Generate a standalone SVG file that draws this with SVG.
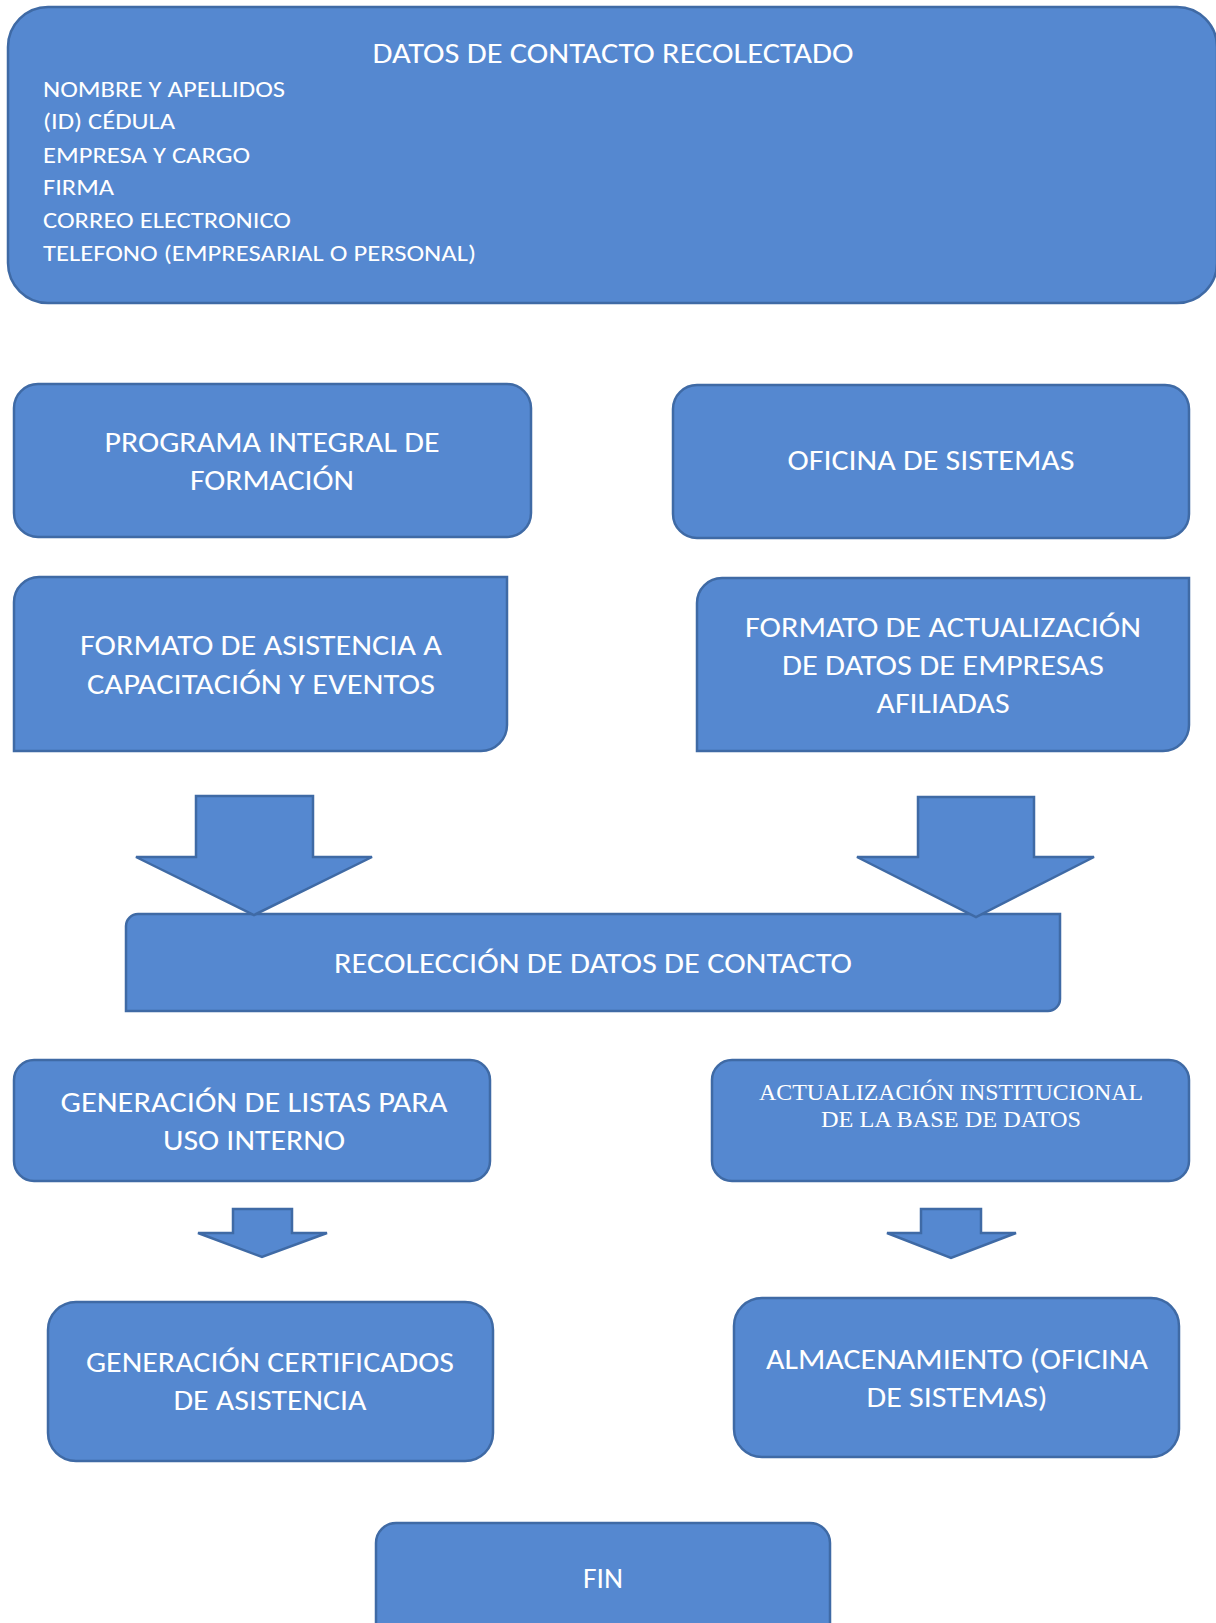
<svg xmlns="http://www.w3.org/2000/svg" width="1216" height="1623" viewBox="0 0 1216 1623">
<style>
.n{fill:#5588D0;stroke:#3F6AA5;stroke-width:2.5}
.t{fill:#FFFFFF;font-family:Carlito,Lato,"Open Sans",sans-serif;font-size:28px;text-anchor:middle}
.l{fill:#FFFFFF;font-family:Carlito,Lato,"Open Sans",sans-serif;font-size:22px}
.s{fill:#FFFFFF;font-family:"Liberation Serif","Times New Roman",serif;font-size:23px;text-anchor:middle}
</style>
<rect width="1216" height="1623" fill="#FFFFFF"/>
<g id="datos-contacto">
<rect class="n" x="8" y="7" width="1209" height="296" rx="40"/>
<text class="t" x="613" y="63" font-size="25" textLength="481" lengthAdjust="spacingAndGlyphs">DATOS DE CONTACTO RECOLECTADO</text>
<text class="l" x="43" y="97" textLength="242" lengthAdjust="spacingAndGlyphs">NOMBRE Y APELLIDOS</text>
<text class="l" x="43" y="129" textLength="132" lengthAdjust="spacingAndGlyphs">(ID) CÉDULA</text>
<text class="l" x="43" y="163" textLength="207" lengthAdjust="spacingAndGlyphs">EMPRESA Y CARGO</text>
<text class="l" x="43" y="195" textLength="71" lengthAdjust="spacingAndGlyphs">FIRMA</text>
<text class="l" x="43" y="228" textLength="248" lengthAdjust="spacingAndGlyphs">CORREO ELECTRONICO</text>
<text class="l" x="43" y="261" textLength="433" lengthAdjust="spacingAndGlyphs">TELEFONO (EMPRESARIAL O PERSONAL)</text>
</g>
<g id="programa">
<rect class="n" x="14" y="384" width="517" height="153" rx="24"/>
<text class="t" x="272" y="452" textLength="335" lengthAdjust="spacingAndGlyphs">PROGRAMA INTEGRAL DE</text>
<text class="t" x="272" y="490" textLength="164" lengthAdjust="spacingAndGlyphs">FORMACIÓN</text>
</g>
<g id="oficina">
<rect class="n" x="673" y="385" width="516" height="153" rx="24"/>
<text class="t" x="931" y="470" textLength="287" lengthAdjust="spacingAndGlyphs">OFICINA DE SISTEMAS</text>
</g>
<g id="formato-asistencia">
<path class="n" d="M14,751 V602 A25,25 0 0 1 39,577 H507 V725 A26,26 0 0 1 481,751 Z"/>
<text class="t" x="261" y="655" textLength="362" lengthAdjust="spacingAndGlyphs">FORMATO DE ASISTENCIA A</text>
<text class="t" x="261" y="694" textLength="348" lengthAdjust="spacingAndGlyphs">CAPACITACIÓN Y EVENTOS</text>
</g>
<g id="formato-actualizacion">
<path class="n" d="M697,751 V603 A25,25 0 0 1 722,578 H1189 V725 A26,26 0 0 1 1163,751 Z"/>
<text class="t" x="943" y="637" textLength="396" lengthAdjust="spacingAndGlyphs">FORMATO DE ACTUALIZACIÓN</text>
<text class="t" x="943" y="675" textLength="322" lengthAdjust="spacingAndGlyphs">DE DATOS DE EMPRESAS</text>
<text class="t" x="943" y="713" textLength="133" lengthAdjust="spacingAndGlyphs">AFILIADAS</text>
</g>
<g id="recoleccion">
<path class="n" d="M126,1011 V926 A12,12 0 0 1 138,914 H1060 V999 A12,12 0 0 1 1048,1011 Z"/>
<text class="t" x="593" y="973" textLength="518" lengthAdjust="spacingAndGlyphs">RECOLECCIÓN DE DATOS DE CONTACTO</text>
</g>
<g id="listas">
<rect class="n" x="14" y="1060" width="476" height="121" rx="20"/>
<text class="t" x="254" y="1112" textLength="387" lengthAdjust="spacingAndGlyphs">GENERACIÓN DE LISTAS PARA</text>
<text class="t" x="254" y="1150" textLength="182" lengthAdjust="spacingAndGlyphs">USO INTERNO</text>
</g>
<g id="actualizacion-bd">
<rect class="n" x="712" y="1060" width="477" height="121" rx="20"/>
<text class="s" x="951" y="1100" textLength="384" lengthAdjust="spacingAndGlyphs">ACTUALIZACIÓN INSTITUCIONAL</text>
<text class="s" x="951" y="1127" textLength="260" lengthAdjust="spacingAndGlyphs">DE LA BASE DE DATOS</text>
</g>
<g id="certificados">
<rect class="n" x="48" y="1302" width="445" height="159" rx="28"/>
<text class="t" x="270" y="1372" textLength="368" lengthAdjust="spacingAndGlyphs">GENERACIÓN CERTIFICADOS</text>
<text class="t" x="270" y="1410" textLength="193" lengthAdjust="spacingAndGlyphs">DE ASISTENCIA</text>
</g>
<g id="almacenamiento">
<rect class="n" x="734" y="1298" width="445" height="159" rx="28"/>
<text class="t" x="957" y="1369" textLength="382" lengthAdjust="spacingAndGlyphs">ALMACENAMIENTO (OFICINA</text>
<text class="t" x="957" y="1407" textLength="181" lengthAdjust="spacingAndGlyphs">DE SISTEMAS)</text>
</g>
<g id="fin">
<rect class="n" x="376" y="1523" width="454" height="130" rx="20"/>
<text class="t" x="603" y="1588" textLength="40" lengthAdjust="spacingAndGlyphs">FIN</text>
</g>
<g id="connectors">
<path class="n" d="M196,796 H313 V857 H372 L254,915 L136,857 H196 Z"/>
<path class="n" d="M918,797 H1034 V857 H1094 L976,917 L857,857 H918 Z"/>
<path class="n" d="M233,1209 H292 V1233 H327 L262,1257 L198,1233 H233 Z"/>
<path class="n" d="M921,1209 H981 V1233 H1016 L951,1258 L887,1233 H921 Z"/>
</g>
</svg>
